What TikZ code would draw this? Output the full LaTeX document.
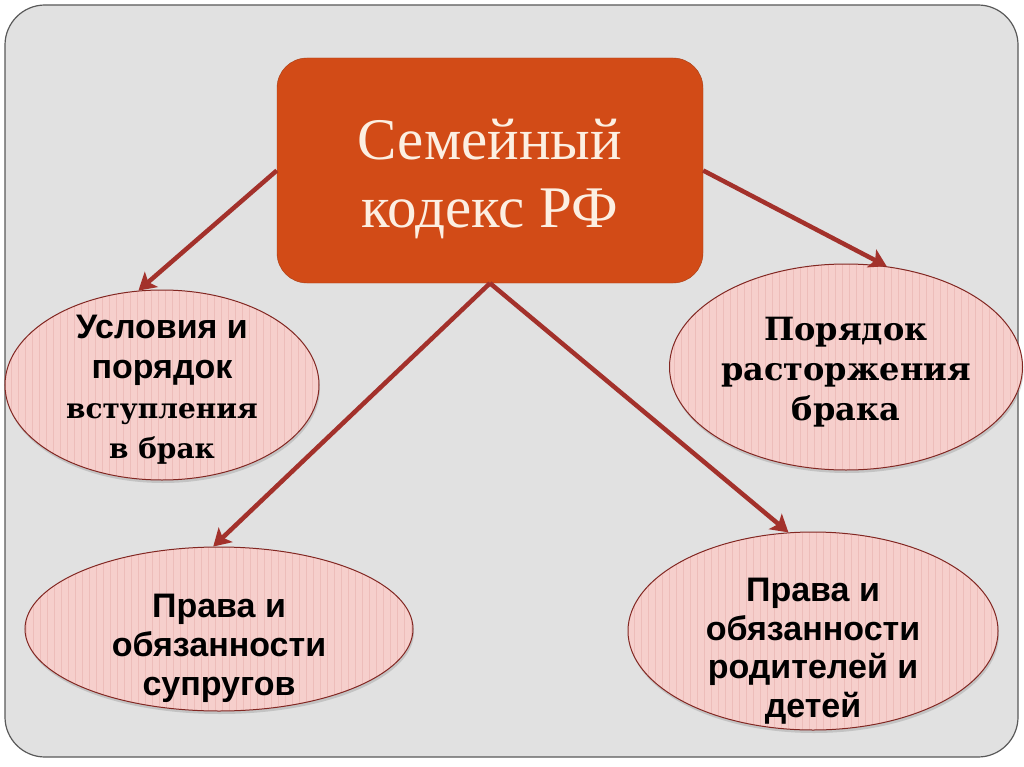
\documentclass[tikz,border=0pt]{standalone}
\usepackage{fontspec}
\setmainfont{Liberation Serif}
\setsansfont{Liberation Sans}
\newfontfamily\zasechki{DejaVu Serif}
\usetikzlibrary{shapes.geometric,arrows.meta,shadows}
\definecolor{fon}{HTML}{E1E1E1}
\definecolor{kirpich}{HTML}{D24B17}
\definecolor{strelka}{HTML}{A3312B}
\definecolor{roza}{HTML}{F6CFCC}
\definecolor{polosa}{HTML}{EDBDBA}
\definecolor{krem}{HTML}{FCEFE2}
\begin{document}
\begin{tikzpicture}[x=1pt,y=-1pt,
    sdvig/.style={text height=#1,text depth=0pt},
    oval/.style={ellipse,draw=strelka!80!black,line width=1pt,fill=roza,inner xsep=0pt,inner ysep=-20pt,align=center,text=black,
      drop shadow={opacity=0.3,shadow xshift=1pt,shadow yshift=-3pt},
      path picture={\foreach \i in {-200,-193,...,200}
        \draw[polosa,line width=0.7pt] ([xshift=\i pt]path picture bounding box.north) -- ([xshift=\i pt]path picture bounding box.south);}},
    bez/.style={font=\fontsize{34}{40}\selectfont\bfseries\sffamily},
    zasech/.style={font=\fontsize{32}{40}\selectfont\bfseries\zasechki},
    svyaz/.style={strelka,line width=4.5pt,-{Stealth[length=17pt,width=20pt,inset=4pt]}}]
			\useasboundingbox (0,0) rectangle (1024,767);
			% фон
			\draw[fill=fon,draw=black!65,line width=1.2pt,rounded corners=40pt] (5,5) rectangle (1018,757);
			% заголовок
			\node[draw=kirpich!80!black,fill=kirpich,rounded corners=30pt,minimum width=426pt,minimum height=225pt,
				align=center,text=krem,font=\fontsize{59}{67}\selectfont,sdvig=113pt] (kodeks) at (490,170.5) {Семейный\\кодекс РФ};
			% овалы
			\node[oval,bez,sdvig=146pt,minimum width=314pt,minimum height=190pt] (usloviya) at (162,385)
				{Условия и\\порядок\\{\zasechki\fontsize{28}{41}\selectfont вступления}\\{\zasechki\fontsize{28}{40}\selectfont в брак}};
			\node[oval,zasech,sdvig=106pt,minimum width=348pt,minimum height=206pt] (rastorzh) at (846,367)
				{Порядок\\расторжения\\брака};
			\node[oval,bez,font=\fontsize{34}{39}\selectfont\bfseries\sffamily,sdvig=132pt,minimum width=388pt,minimum height=164pt] (suprugi) at (219,629)
				{Права и\\обязанности\\супругов};
			\node[oval,bez,font=\fontsize{34}{38.5}\selectfont\bfseries\sffamily,sdvig=172pt,minimum width=370pt,minimum height=198pt] (deti) at (813,631)
				{Права и\\обязанности\\родителей и\\детей};
			% стрелки
			\draw[svyaz] (kodeks.west) -- (usloviya.104);
			\draw[svyaz] (kodeks.east) -- (rastorzh.68);
			\draw[svyaz] (kodeks.south) -- (suprugi.94);
			\draw[svyaz] (kodeks.south) -- (deti.104);
		\end{tikzpicture}
\end{document}
